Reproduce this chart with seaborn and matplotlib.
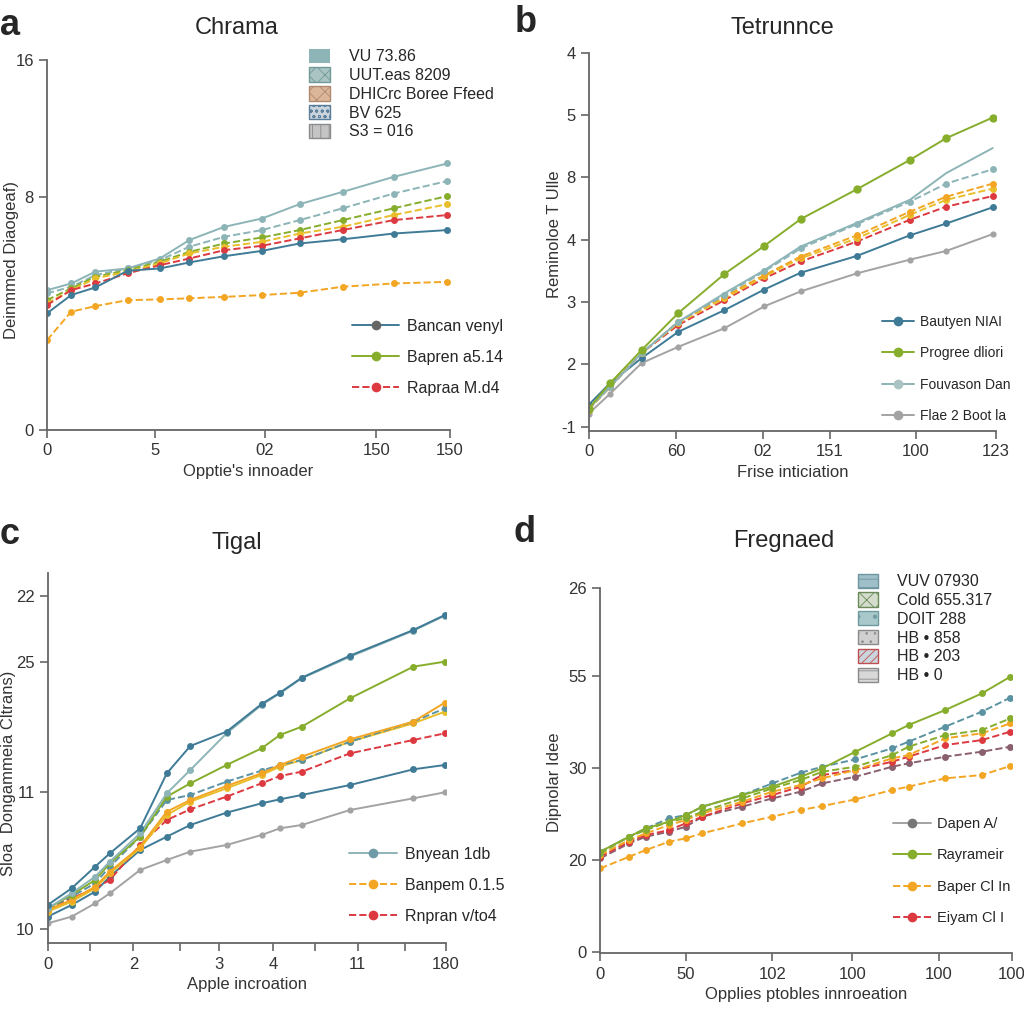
import numpy as np
import pandas as pd
import seaborn as sns
import matplotlib.pyplot as plt
from matplotlib.lines import Line2D
from matplotlib.patches import Patch

sns.set_style("white")
plt.rcParams['font.family'] = ['Liberation Sans', 'DejaVu Sans']
plt.rcParams['hatch.linewidth'] = 0.6

# colours
BLUE = '#3f7b96'
TEAL = '#8db4b6'
GREEN = '#86ad2c'
RED = '#dc3a40'
ORANGE = '#f2a623'
YELLOW = '#e8bf2a'
GRAY = '#a3a3a3'
MAUVE = '#8a5f6e'

# ---- panel a: Chrama ----
a_x = [0, 9, 18, 30, 42, 53, 66, 80, 94, 110, 129, 149]
a_teal_solid = [6.05, 6.34, 6.85, 6.99, 7.42, 8.22, 8.79, 9.15, 9.77, 10.30, 10.95, 11.53]
a_teal_dash = [5.91, 6.20, 6.70, 6.99, 7.35, 7.93, 8.36, 8.65, 9.08, 9.59, 10.23, 10.77]
a_green_dash = [5.62, 6.13, 6.63, 6.92, 7.28, 7.71, 8.07, 8.33, 8.65, 9.08, 9.59, 10.12]
a_yellow_dash = [5.48, 6.05, 6.56, 6.85, 7.21, 7.64, 7.93, 8.14, 8.50, 8.79, 9.30, 9.77]
a_red_dash = [5.41, 6.05, 6.34, 6.78, 7.13, 7.42, 7.78, 7.97, 8.29, 8.65, 9.08, 9.30]
a_blue_solid = [5.05, 5.84, 6.17, 6.89, 6.99, 7.25, 7.52, 7.75, 8.07, 8.25, 8.50, 8.65]
a_orange_dash = [3.89, 5.12, 5.36, 5.62, 5.65, 5.70, 5.76, 5.84, 5.94, 6.20, 6.34, 6.41]
a_xticks = [0, 40.2, 81, 122.6, 150]
a_xticklabels = ['0', '5', '02', '150', '150']
a_yticks = [0, 10.1, 16]
a_yticklabels = ['0', '8', '16']
a_patch_labels = ['VU 73.86', 'UUT.eas 8209', 'DHICrc Boree Ffeed', 'BV 625', 'S3 = 016']
a_line_labels = ['Bancan venyl', 'Bapren a5.14', 'Rapraa M.d4']

# ---- panel b: Tetrunnce ----
b_x = [0, 6.5, 16, 27, 41, 53, 64, 81, 97, 108, 122]
b_green = [0.29, 0.70, 1.23, 1.82, 2.45, 2.90, 3.33, 3.81, 4.28, 4.63, 4.96]
b_teal_solid = [0.29, 0.64, 1.18, 1.68, 2.14, 2.51, 2.89, 3.27, 3.64, 4.07, 4.47]
b_teal_dash = [0.29, 0.64, 1.18, 1.68, 2.11, 2.49, 2.86, 3.25, 3.61, 3.90, 4.13]
b_orange_dash = [0.27, 0.67, 1.18, 1.68, 2.09, 2.43, 2.73, 3.07, 3.45, 3.69, 3.90]
b_yellow_dash = [0.27, 0.64, 1.18, 1.66, 2.06, 2.41, 2.70, 3.02, 3.40, 3.64, 3.82]
b_red_dash = [0.29, 0.64, 1.18, 1.63, 2.03, 2.38, 2.65, 2.97, 3.32, 3.53, 3.70]
b_blue = [0.35, 0.70, 1.10, 1.52, 1.87, 2.20, 2.47, 2.74, 3.07, 3.26, 3.52]
b_gray = [0.21, 0.53, 1.02, 1.28, 1.58, 1.93, 2.17, 2.46, 2.68, 2.82, 3.09]
b_xticks = [0, 26.5, 52.6, 72.8, 98.7, 123]
b_xticklabels = ['0', '60', '02', '151', '100', '123']
b_yticks = [0, 1, 2, 3, 4, 5, 6]
b_yticklabels = ['-1', '2', '3', '4', '8', '5', '4']
b_line_labels = ['Bautyen NIAI', 'Progree dliori', 'Fouvason Dan', 'Flae 2 Boot la']

# ---- panel c: Tigal ----
c_x = [0, 6.0, 11.9, 15.6, 23.2, 29.9, 35.8, 44.9, 53.7, 58.3, 63.8, 75.9, 91.8, 99.7]
c_blue_top = [7.2, 12.2, 18.7, 22.7, 30.2, 46.7, 54.9, 59.2, 67.5, 70.9, 75.4, 82.0, 89.7, 94.2]
c_teal = [6.2, 10.7, 15.7, 20.2, 28.7, 40.7, 47.7, 58.7, 67.2, 70.7, 75.2, 81.7, 89.5, 94.0]
c_green = [6.2, 10.2, 14.7, 19.7, 27.7, 39.7, 43.7, 49.2, 54.2, 58.2, 60.7, 69.2, 78.7, 80.2]
c_orange = [5.7, 8.7, 12.7, 17.2, 24.7, 35.2, 38.7, 42.9, 46.7, 49.2, 51.7, 56.9, 62.2, 67.9]
c_teal_dash = [6.2, 9.7, 13.7, 18.7, 27.7, 38.7, 40.2, 44.2, 47.5, 49.2, 50.7, 56.2, 62.2, 66.2]
c_yellow = [5.2, 8.2, 12.2, 16.7, 24.2, 34.2, 38.2, 42.2, 46.2, 48.7, 50.7, 56.2, 61.7, 65.2]
c_red_dash = [6.2, 9.2, 12.2, 14.7, 25.2, 32.7, 35.9, 39.7, 43.7, 45.9, 47.2, 52.7, 56.7, 58.7]
c_blue_low = [3.7, 7.2, 11.2, 15.7, 23.7, 27.7, 31.2, 34.9, 37.7, 38.9, 40.2, 43.2, 47.9, 49.2]
c_gray = [1.7, 3.7, 7.7, 10.7, 17.7, 20.7, 23.2, 25.2, 28.2, 30.2, 31.2, 35.7, 39.2, 41.0]
c_xticks = [0, 10.6, 21.5, 33.2, 43, 56.5, 67.1, 77.8, 89.7, 100]
c_xticklabels = ['0', '', '2', '', '3', '4', '', '11', '', '180']
c_yticks = [0, 41, 80.2, 100]
c_yticklabels = ['10', '11', '25', '22']
c_line_labels = ['Bnyean 1db', 'Banpem 0.1.5', 'Rnpran v/to4']

# ---- panel d: Fregnaed ----
d_x = [0, 7.0, 11.1, 16.7, 20.8, 24.8, 34.5, 41.8, 48.7, 53.9, 62.0, 70.9, 74.9, 83.8, 92.7, 99.6]
d_green = [11.06, 12.71, 13.63, 14.36, 15.09, 16.01, 17.29, 18.21, 19.30, 20.22, 22.05, 24.07, 24.98, 26.63, 28.46, 30.29]
d_blue_dash = [11.06, 12.71, 13.63, 14.73, 15.09, 16.01, 17.29, 18.57, 19.74, 20.40, 21.21, 22.42, 23.15, 24.80, 26.45, 27.99]
d_green_dash = [10.88, 12.71, 13.44, 14.36, 14.73, 15.46, 16.92, 18.02, 18.94, 19.85, 20.40, 21.68, 22.60, 23.88, 24.43, 25.71]
d_orange_dash = [10.70, 12.34, 13.08, 13.99, 14.54, 15.27, 16.56, 17.66, 18.39, 19.12, 20.04, 21.32, 21.68, 23.52, 24.07, 25.16]
d_red_dash = [10.51, 12.16, 12.89, 13.44, 14.18, 14.91, 16.37, 17.29, 18.21, 19.49, 20.04, 20.95, 21.50, 22.78, 23.33, 24.25]
d_mauve_dash = [10.33, 11.98, 12.71, 13.26, 13.81, 14.91, 16.01, 16.92, 17.66, 18.57, 19.30, 20.40, 20.77, 21.50, 22.05, 22.60]
d_orange_low = [9.23, 10.51, 11.25, 12.16, 12.53, 13.08, 14.18, 14.91, 15.64, 16.08, 16.81, 17.84, 18.21, 19.12, 19.49, 20.48]
d_xticks = [0, 20.8, 41.8, 61.2, 82.2, 100]
d_xticklabels = ['0', '50', '102', '100', '100', '100']
d_yticks = [0, 10.15, 20.3, 30.4, 40]
d_yticklabels = ['0', '20', '30', '55', '26']
d_patch_labels = ['VUV 07930', 'Cold 655.317', 'DOIT 288', 'HB \u2022 858', 'HB \u2022 203', 'HB \u2022 0']
d_line_labels = ['Dapen A/', 'Rayrameir', 'Baper Cl In', 'Eiyam Cl I']


def draw(ax, x, y, color, ls='-', marker='o', ms=5):
    sns.lineplot(x=x, y=y, ax=ax, color=color, linestyle=ls, marker=marker,
                 markersize=ms, markeredgewidth=0, linewidth=1.4, legend=False)


def style(ax, xlim, ylim, xticks, xlabels, yticks, ylabels, xlabel, ylabel):
    ax.set_xlim(*xlim)
    ax.set_ylim(*ylim)
    ax.set_xticks(xticks)
    ax.set_xticklabels(xlabels, fontsize=12, color='#333333')
    ax.set_yticks(yticks)
    ax.set_yticklabels(ylabels, fontsize=12, color='#333333')
    ax.set_xlabel(xlabel, fontsize=12, color='#333333', labelpad=4)
    ax.set_ylabel(ylabel, fontsize=12, color='#333333')
    for s in ['top', 'right']:
        ax.spines[s].set_visible(False)
    for s in ['left', 'bottom']:
        ax.spines[s].set_color('#666666')
        ax.spines[s].set_linewidth(1.3)
    ax.tick_params(axis='both', direction='out', length=6, width=1.2,
                   color='#666666', left=True, bottom=True)


def line_handle(color, ls='-', mcolor=None):
    return Line2D([], [], color=color, linestyle=ls, marker='o',
                  markerfacecolor=mcolor or color, markeredgewidth=0,
                  markersize=7, linewidth=1.4)


fig = plt.figure(figsize=(10.24, 10.24), dpi=100)

# panel a
ax = fig.add_axes([0.0459, 0.580, 0.3936, 0.3613])
draw(ax, a_x, a_teal_solid, TEAL)
draw(ax, a_x, a_teal_dash, TEAL, '--')
draw(ax, a_x, a_green_dash, GREEN, '--')
draw(ax, a_x, a_yellow_dash, YELLOW, '--')
draw(ax, a_x, a_red_dash, RED, '--')
draw(ax, a_x, a_blue_solid, BLUE)
draw(ax, a_x, a_orange_dash, ORANGE, '--')
style(ax, (0, 150), (0, 16), a_xticks, a_xticklabels, a_yticks, a_yticklabels,
      "Opptie's innoader", 'Deinmmed Diaogeaf)')
ax.yaxis.set_label_coords(-0.07, 0.46)
patches = [Patch(facecolor=TEAL, edgecolor='none'),
           Patch(facecolor='#a9c4c2', edgecolor='#6f9a98', hatch='xx'),
           Patch(facecolor='#dcb699', edgecolor='#b08a70', hatch='xx'),
           Patch(facecolor='#c9d4dc', edgecolor='#5a7d99', hatch='ooo'),
           Patch(facecolor='#c4c4c4', edgecolor='#8a8a8a', hatch='||')]
leg1 = ax.legend(patches, a_patch_labels, loc='upper left', bbox_to_anchor=(0.615, 1.07),
                 frameon=False, fontsize=11.5, handlelength=1.3, handleheight=1.0,
                 labelspacing=0.2, handletextpad=1.2)
ax.add_artist(leg1)
ax.legend([line_handle(BLUE, mcolor='#666666'), line_handle(GREEN), line_handle(RED, '--')],
          a_line_labels, loc='upper left', bbox_to_anchor=(0.72, 0.34), frameon=False,
          fontsize=11.5, handlelength=3.0, labelspacing=1.0, handletextpad=0.5)

# panel b
ax = fig.add_axes([0.5749, 0.5791, 0.3978, 0.3694])
draw(ax, b_x, b_gray, GRAY, ms=4.5)
draw(ax, b_x, b_blue, BLUE)
draw(ax, b_x, b_red_dash, RED, '--')
draw(ax, b_x, b_yellow_dash, YELLOW, '--')
draw(ax, b_x, b_orange_dash, ORANGE, '--')
draw(ax, b_x, b_teal_dash, TEAL, '--')
draw(ax, b_x, b_teal_solid, TEAL, marker=None)
draw(ax, b_x, b_green, GREEN, ms=6)
style(ax, (0, 123), (-0.07, 6.0), b_xticks, b_xticklabels, b_yticks, b_yticklabels,
      'Frise inticiation', 'Reminoloe T Ulle')
ax.yaxis.set_label_coords(-0.066, 0.52)
ax.legend([line_handle(BLUE), line_handle(GREEN), line_handle(TEAL, mcolor='#a9c4c2'),
           line_handle(GRAY)], b_line_labels, loc='upper left', bbox_to_anchor=(0.69, 0.34),
          frameon=False, fontsize=10, handlelength=2.3, labelspacing=1.25,
          handletextpad=0.4)

# panel c
ax = fig.add_axes([0.0466, 0.0788, 0.389, 0.3613])
draw(ax, c_x, c_gray, GRAY, ms=4.5)
draw(ax, c_x, c_blue_low, BLUE)
draw(ax, c_x, c_red_dash, RED, '--')
draw(ax, c_x, c_yellow, YELLOW)
draw(ax, c_x, c_teal_dash, '#5b93a3', '--')
draw(ax, c_x, c_orange, ORANGE)
draw(ax, c_x, c_green, GREEN)
draw(ax, c_x, c_teal, TEAL)
draw(ax, c_x, c_blue_top, BLUE)
style(ax, (0, 100), (-4.3, 106.7), c_xticks, c_xticklabels, c_yticks, c_yticklabels,
      'Apple incroation', 'Sloa  Dongammeia Cltrans)')
ax.yaxis.set_label_coords(-0.08, 0.46)
ax.legend([line_handle(TEAL, mcolor='#6f9aa8'), line_handle(ORANGE, '--'), line_handle(RED, '--')],
          c_line_labels, loc='upper left', bbox_to_anchor=(0.72, 0.30), frameon=False,
          fontsize=11.5, handlelength=3.0, labelspacing=1.0, handletextpad=0.5)

# panel d
ax = fig.add_axes([0.5862, 0.069, 0.402, 0.3564])
draw(ax, d_x, d_orange_low, ORANGE, '--')
draw(ax, d_x, d_mauve_dash, MAUVE, '--')
draw(ax, d_x, d_red_dash, RED, '--')
draw(ax, d_x, d_orange_dash, ORANGE, '--')
draw(ax, d_x, d_green_dash, GREEN, '--')
draw(ax, d_x, d_blue_dash, '#5b93a3', '--')
draw(ax, d_x, d_green, GREEN)
style(ax, (0, 100), (-0.11, 40), d_xticks, d_xticklabels, d_yticks, d_yticklabels,
      'Opplies ptobles innroeation', 'Dipnolar Idee')
ax.yaxis.set_label_coords(-0.092, 0.47)
patches = [Patch(facecolor='#9fc0c8', edgecolor='#6f96a0', hatch='--'),
           Patch(facecolor='#d4dccc', edgecolor='#6a8a5a', hatch='xx'),
           Patch(facecolor='#a9c8cc', edgecolor='#6f9aa0', hatch='.'),
           Patch(facecolor='#d0d0d0', edgecolor='#8a8a8a', hatch='..'),
           Patch(facecolor='#c9d4dc', edgecolor='#c05050', hatch='////'),
           Patch(facecolor='#d8d8d8', edgecolor='#8a8a8a', hatch='--')]
leg1 = ax.legend(patches, d_patch_labels, loc='upper left', bbox_to_anchor=(0.59, 1.08),
                 frameon=False, fontsize=11.5, handlelength=1.3, handleheight=1.0,
                 labelspacing=0.2, handletextpad=1.2)
ax.add_artist(leg1)
ax.legend([line_handle(GRAY, mcolor='#777777'), line_handle(GREEN), line_handle(ORANGE, '--'),
           line_handle(RED, '--')], d_line_labels, loc='upper left',
          bbox_to_anchor=(0.68, 0.41), frameon=False, fontsize=10.5, handlelength=2.6,
          labelspacing=1.2, handletextpad=0.4)

# titles placed at their reference positions
fig.text(237 / 1024, 1 - 28 / 1024, 'Chrama', fontsize=17, ha='center', va='center')
fig.text(782 / 1024, 1 - 28 / 1024, 'Tetrunnce', fontsize=17, ha='center', va='center')
fig.text(237 / 1024, 1 - 543 / 1024, 'Tigal', fontsize=17, ha='center', va='center')
fig.text(784 / 1024, 1 - 541 / 1024, 'Fregnaed', fontsize=17, ha='center', va='center')

# panel letters
fig.text(0.0, 0.975, 'a', fontsize=26, fontweight='bold', va='center')
fig.text(0.503, 0.978, 'b', fontsize=26, fontweight='bold', va='center')
fig.text(0.0, 0.478, 'c', fontsize=26, fontweight='bold', va='center')
fig.text(0.501, 0.480, 'd', fontsize=26, fontweight='bold', va='center')

fig.savefig('out.png', dpi=100, facecolor='white')
